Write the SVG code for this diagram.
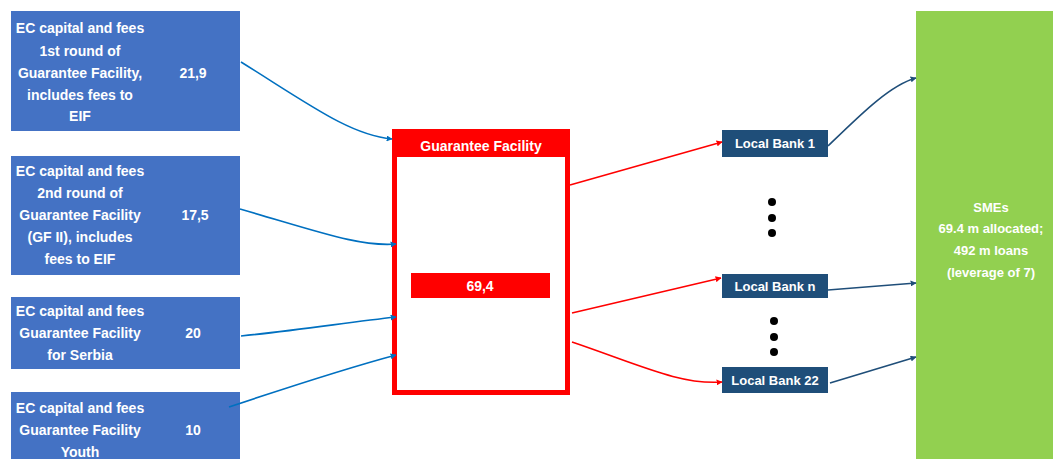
<svg xmlns="http://www.w3.org/2000/svg" width="1053" height="459" viewBox="0 0 1053 459">
<style>
.src{fill:#4472C4}
.t{font-family:"Liberation Sans",Arial,sans-serif;font-weight:bold;fill:#fff;text-anchor:middle}
.s14{font-size:14px}
.s13{font-size:13px}
.bank{fill:#1F4E79}
.blue{fill:none;stroke:#0070C0;stroke-width:1.6}
.red{fill:none;stroke:#FF0000;stroke-width:1.6}
.dk{fill:none;stroke:#1F4E79;stroke-width:1.6}
</style>
<defs>
<marker id="ab" viewBox="0 0 10 10" refX="9" refY="5" markerWidth="6" markerHeight="6" markerUnits="userSpaceOnUse" orient="auto"><path d="M0,0 L10,5 L0,10 z" fill="#0070C0"/></marker>
<marker id="ar" viewBox="0 0 10 10" refX="9" refY="5" markerWidth="6" markerHeight="6" markerUnits="userSpaceOnUse" orient="auto"><path d="M0,0 L10,5 L0,10 z" fill="#FF0000"/></marker>
<marker id="ad" viewBox="0 0 10 10" refX="9" refY="5" markerWidth="6" markerHeight="6" markerUnits="userSpaceOnUse" orient="auto"><path d="M0,0 L10,5 L0,10 z" fill="#1F4E79"/></marker>
</defs>
<rect width="1053" height="459" fill="#fff"/>

<g id="src1">
<rect class="src" x="11" y="11" width="229" height="120"/>
<text class="t s14" x="80" y="33">EC capital and fees</text>
<text class="t s14" x="80" y="56">1st round of</text>
<text class="t s14" x="80" y="78">Guarantee Facility,</text>
<text class="t s14" x="80" y="100">includes fees to</text>
<text class="t s14" x="80" y="121">EIF</text>
<text class="t s14" x="193" y="78">21,9</text>
</g>
<g id="src2">
<rect class="src" x="11" y="156" width="229" height="119"/>
<text class="t s14" x="80" y="176">EC capital and fees</text>
<text class="t s14" x="80" y="198">2nd round of</text>
<text class="t s14" x="80" y="220">Guarantee Facility</text>
<text class="t s14" x="80" y="242">(GF II), includes</text>
<text class="t s14" x="80" y="264">fees to EIF</text>
<text class="t s14" x="195" y="220">17,5</text>
</g>
<g id="src3">
<rect class="src" x="11" y="297" width="229" height="72"/>
<text class="t s14" x="80" y="316">EC capital and fees</text>
<text class="t s14" x="80" y="338">Guarantee Facility</text>
<text class="t s14" x="80" y="360">for Serbia</text>
<text class="t s14" x="193" y="338">20</text>
</g>
<g id="src4">
<rect class="src" x="11" y="392" width="229" height="67"/>
<text class="t s14" x="80" y="413">EC capital and fees</text>
<text class="t s14" x="80" y="435">Guarantee Facility</text>
<text class="t s14" x="80" y="457">Youth</text>
<text class="t s14" x="193" y="435">10</text>
</g>

<g id="gf">
<rect x="394.5" y="131.5" width="173" height="261" fill="#fff" stroke="#FF0000" stroke-width="5"/>
<rect x="392" y="129" width="178" height="28" fill="#FF0000"/>
<text class="t s14" x="481" y="151">Guarantee Facility</text>
<rect x="411" y="273" width="139" height="25" fill="#FF0000"/>
<text class="t s14" x="480" y="291">69,4</text>
</g>

<g id="bank1">
<rect class="bank" x="722" y="130" width="106" height="27"/>
<text class="t s13" x="775" y="148">Local Bank 1</text>
</g>
<g id="bankn">
<rect class="bank" x="722" y="274" width="106" height="24"/>
<text class="t s13" x="775" y="291">Local Bank n</text>
</g>
<g id="bank22">
<rect class="bank" x="722" y="367" width="106" height="26"/>
<text class="t s13" x="775" y="385">Local Bank 22</text>
</g>

<g id="dots">
<circle cx="772" cy="202" r="4"/>
<circle cx="772" cy="218" r="4"/>
<circle cx="772" cy="233" r="4"/>
<circle cx="774" cy="321" r="4"/>
<circle cx="774" cy="337" r="4"/>
<circle cx="774" cy="352" r="4"/>
</g>

<g id="smes">
<rect x="916" y="11" width="137" height="448" fill="#92D050"/>
<text class="t s13" x="991" y="212">SMEs</text>
<text class="t s13" x="991" y="233">69.4 m allocated;</text>
<text class="t s13" x="991" y="255">492 m loans</text>
<text class="t s13" x="991" y="277">(leverage of 7)</text>
</g>

<g id="connectors">
<path class="blue" d="M241,62 C310,105 350,135 392,139" marker-end="url(#ab)"/>
<path class="blue" d="M240,209 C320,232 360,247 396,244" marker-end="url(#ab)"/>
<path class="blue" d="M241,336 C300,330 350,322 396,317" marker-end="url(#ab)"/>
<path class="blue" d="M229,407 C280,390 340,370 396,355" marker-end="url(#ab)"/>
<path class="red" d="M570,185 L722,142" marker-end="url(#ar)"/>
<path class="red" d="M572,313 L721,278" marker-end="url(#ar)"/>
<path class="red" d="M572,342 C640,365 680,385 722,382" marker-end="url(#ar)"/>
<path class="dk" d="M828,146 C860,115 890,85 916,78" marker-end="url(#ad)"/>
<path class="dk" d="M828,290 L916,283" marker-end="url(#ad)"/>
<path class="dk" d="M830,383 L916,357" marker-end="url(#ad)"/>
</g>
</svg>
